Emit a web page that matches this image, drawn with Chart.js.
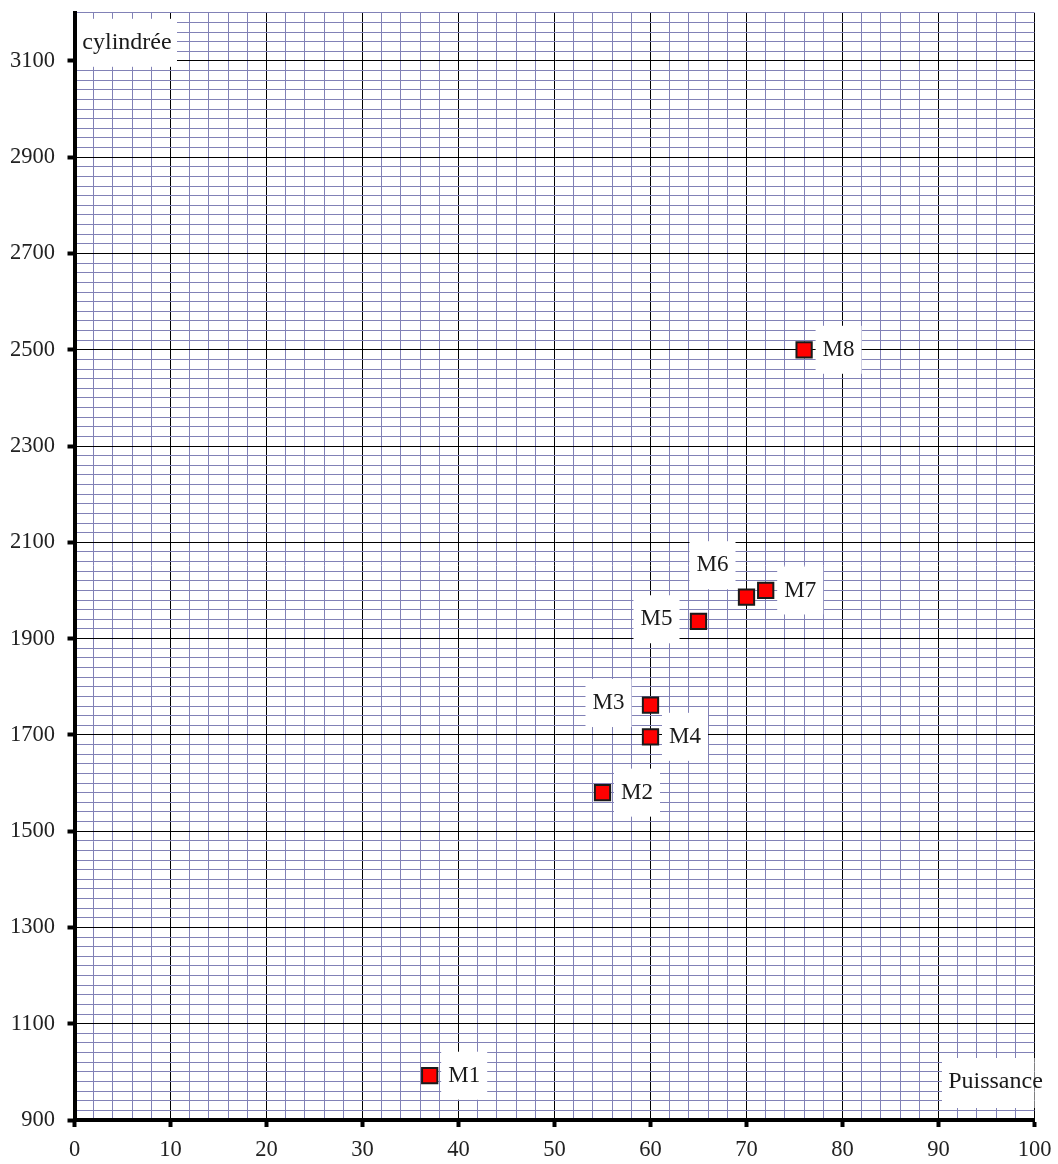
<!DOCTYPE html>
<html>
<head>
<meta charset="utf-8">
<script src="https://cdn.jsdelivr.net/npm/chart.js@4/dist/chart.umd.min.js"></script>
<style>
html,body{margin:0;padding:0;background:#fff;}
#wrap{width:1058px;height:1164px;}
</style>
</head>
<body>
<div id="wrap"><canvas id="c" width="1058" height="1164"></canvas></div>
<script>
// ---- data ----
const pointNames = ['M1','M2','M3','M4','M5','M6','M7','M8'];
const puissance  = [37, 55, 60, 60, 65, 70, 72, 76];
const cylindree  = [992, 1580, 1762, 1696, 1936, 1986, 2000, 2500];
const xTickLabels = ['0','10','20','30','40','50','60','70','80','90','100'];
const yTickLabels = ['900','1100','1300','1500','1700','1900','2100','2300','2500','2700','2900','3100'];
const xTitle = 'Puissance';
const yTitle = 'cylindrée';

// ---- style (label placement per point) ----
const labelPlacement = ['right','right','left','right','left','topleft','right','right'];
const placementOffsets = { right: [34.5, 0], left: [-42, -2], topleft: [-34, -32] };

const FONT = '"Liberation Serif", "Times New Roman", serif';
const MINOR = '#8181b6';

const labelBoxes = {
  id: 'labelBoxes',
  beforeDatasetsDraw(chart) {
    const ctx = chart.ctx;
    const a = chart.chartArea;
    const meta = chart.getDatasetMeta(0);
    ctx.save();
    ctx.beginPath();
    ctx.rect(a.left + 2, a.top, a.right - a.left - 2, a.bottom - a.top - 2);
    ctx.clip();
    ctx.fillStyle = '#fff';
    // title boxes
    ctx.fillRect(a.left + 2.5, a.top + 6, 100, 48);
    ctx.fillRect(a.right - 92.5, a.bottom - 62, 110, 50);
    meta.data.forEach((el, i) => {
      const off = placementOffsets[labelPlacement[i]];
      const cx = el.x + off[0], cy = el.y + off[1];
      ctx.fillRect(cx - 23, cy - 24, 46, 48);
    });
    ctx.restore();

    ctx.save();
    ctx.fillStyle = '#1a1a1a';
    ctx.textAlign = 'center';
    ctx.textBaseline = 'middle';
    ctx.font = '23px ' + FONT;
    meta.data.forEach((el, i) => {
      const off = placementOffsets[labelPlacement[i]];
      ctx.fillText(pointNames[i], el.x + off[0], el.y + off[1]);
    });
    ctx.font = '24px ' + FONT;
    ctx.fillText(yTitle, a.left + 52.5, a.top + 30);
    ctx.fillText(xTitle, a.right - 39, a.bottom - 38);
    ctx.restore();
  }
};

const fixPad = (s) => { s.paddingTop = 0; s.paddingBottom = 0; s.paddingLeft = 0; s.paddingRight = 0; };

new Chart(document.getElementById('c'), {
  type: 'scatter',
  data: {
    datasets: [{
      data: puissance.map((x, i) => ({ x: x, y: cylindree[i] })),
      pointStyle: 'rect',
      pointRadius: 10.8,
      pointHoverRadius: 10.8,
      backgroundColor: '#ff0000',
      borderColor: '#1a1a1a',
      borderWidth: 2
    }]
  },
  options: {
    responsive: false,
    animation: false,
    devicePixelRatio: 1,
    layout: { padding: { top: 9, right: 23.5, left: 0, bottom: 0 } },
    plugins: { legend: { display: false }, tooltip: { enabled: false } },
    scales: {
      x: {
        type: 'linear',
        min: 0, max: 100,
        afterFit: (s) => { s.height = 44; fixPad(s); },
        border: { display: true, color: '#000', width: 4 },
        grid: {
          color: (c) => xTickLabels.includes(String(c.tick.value)) ? '#000' : MINOR,
          lineWidth: 1,
          tickLength: 7,
          tickWidth: 4,
          tickColor: (c) => xTickLabels.includes(String(c.tick.value)) ? '#000' : 'rgba(0,0,0,0)'
        },
        ticks: {
          stepSize: 2,
          autoSkip: false,
          maxRotation: 0,
          padding: 10,
          color: '#222',
          font: { family: FONT, size: 22.5 },
          callback: (v) => xTickLabels.includes(String(v)) ? String(v) : ''
        }
      },
      y: {
        type: 'linear',
        min: 900, max: 3200,
        afterFit: (s) => { s.width = 74.5; fixPad(s); },
        border: { display: true, color: '#000', width: 4 },
        grid: {
          color: (c) => yTickLabels.includes(String(c.tick.value)) ? '#000' : MINOR,
          lineWidth: 1,
          tickLength: 7,
          tickWidth: 4,
          tickColor: (c) => yTickLabels.includes(String(c.tick.value)) ? '#000' : 'rgba(0,0,0,0)'
        },
        ticks: {
          stepSize: 20,
          autoSkip: false,
          padding: 12.5,
          color: '#222',
          font: { family: FONT, size: 22.5 },
          callback: (v) => yTickLabels.includes(String(v)) ? String(v) : ''
        }
      }
    }
  },
  plugins: [labelBoxes]
});
</script>
</body>
</html>
